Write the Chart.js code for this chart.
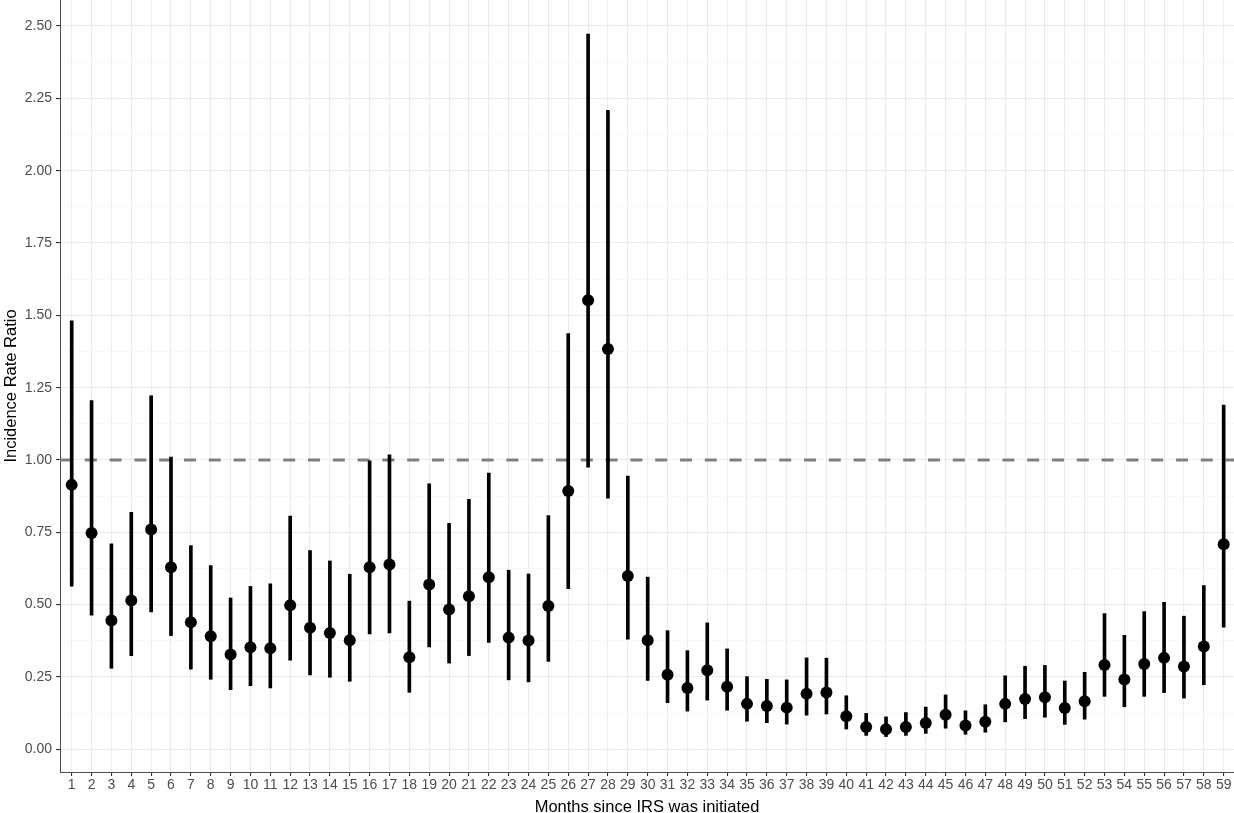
<!DOCTYPE html>
<html>
<head>
<meta charset="utf-8">
<script src="https://cdn.jsdelivr.net/npm/chart.js@4.4.1/dist/chart.umd.min.js"></script>
<style>
  html, body { margin: 0; padding: 0; background: #fff; overflow: hidden; }
  #wrap { width: 1234px; height: 813px; }
</style>
</head>
<body>
<div id="wrap"><canvas id="irrChart" width="1234" height="813"></canvas></div>
<script>
// months since IRS started
const months = [1, 2, 3, 4, 5, 6, 7, 8, 9, 10, 11, 12, 13, 14, 15, 16, 17, 18, 19, 20,
    21, 22, 23, 24, 25, 26, 27, 28, 29, 30, 31, 32, 33, 34, 35, 36, 37, 38, 39, 40,
    41, 42, 43, 44, 45, 46, 47, 48, 49, 50, 51, 52, 53, 54, 55, 56, 57, 58, 59];

// incidence rate ratio estimates
const irr = [0.914, 0.748, 0.445, 0.514, 0.760, 0.629, 0.439, 0.391, 0.328, 0.353,
    0.349, 0.498, 0.420, 0.402, 0.377, 0.629, 0.639, 0.318, 0.570, 0.483,
    0.529, 0.595, 0.386, 0.376, 0.495, 0.893, 1.552, 1.384, 0.599, 0.377,
    0.258, 0.212, 0.273, 0.216, 0.157, 0.150, 0.144, 0.192, 0.196, 0.114,
    0.077, 0.069, 0.077, 0.091, 0.119, 0.082, 0.095, 0.157, 0.174, 0.180,
    0.143, 0.166, 0.291, 0.241, 0.295, 0.316, 0.286, 0.355, 0.709];

// 95% CI bounds
const ciLower = [0.564, 0.464, 0.280, 0.324, 0.475, 0.393, 0.277, 0.242, 0.206, 0.220,
    0.212, 0.308, 0.257, 0.249, 0.235, 0.399, 0.402, 0.197, 0.354, 0.298,
    0.324, 0.369, 0.240, 0.233, 0.304, 0.555, 0.975, 0.868, 0.381, 0.238,
    0.161, 0.132, 0.170, 0.135, 0.097, 0.092, 0.087, 0.118, 0.122, 0.070,
    0.048, 0.044, 0.048, 0.055, 0.073, 0.052, 0.059, 0.095, 0.106, 0.111,
    0.086, 0.104, 0.183, 0.147, 0.183, 0.196, 0.177, 0.223, 0.422];

const ciUpper = [1.481, 1.205, 0.710, 0.819, 1.222, 1.010, 0.704, 0.635, 0.523, 0.563,
    0.572, 0.806, 0.687, 0.651, 0.605, 0.997, 1.018, 0.512, 0.918, 0.781,
    0.864, 0.955, 0.619, 0.606, 0.808, 1.437, 2.472, 2.209, 0.944, 0.595,
    0.410, 0.341, 0.437, 0.347, 0.251, 0.242, 0.240, 0.316, 0.315, 0.185,
    0.124, 0.112, 0.127, 0.146, 0.188, 0.133, 0.154, 0.254, 0.287, 0.290,
    0.236, 0.266, 0.469, 0.394, 0.476, 0.508, 0.460, 0.566, 1.190];

const yMajorTicks = [0, 0.25, 0.5, 0.75, 1, 1.25, 1.5, 1.75, 2, 2.25, 2.5];
const yMinorTicks = [0.125, 0.375, 0.625, 0.875, 1.125, 1.375, 1.625, 1.875, 2.125, 2.375];
const refValue = 1;

const FONT = '"Liberation Sans", Arial, sans-serif';
const isMajor = v => yMajorTicks.includes(v);

const refLinePlugin = {
    id: 'refLine',
    beforeDatasetsDraw(chart) {
        const { ctx, chartArea } = chart;
        const y = chart.scales.y.getPixelForValue(refValue);
        ctx.save();
        ctx.strokeStyle = '#808080';
        ctx.lineWidth = 3;
        ctx.setLineDash([12, 12.8]);
        ctx.beginPath();
        ctx.moveTo(chartArea.left, y);
        ctx.lineTo(chartArea.right, y);
        ctx.stroke();
        ctx.restore();
    }
};

new Chart(document.getElementById('irrChart').getContext('2d'), {
    type: 'bar',
    data: {
        datasets: [
            {
                type: 'line',
                label: 'IRR',
                data: months.map((m, i) => ({ x: m, y: irr[i] })),
                showLine: false,
                pointRadius: 6,
                pointBackgroundColor: '#000',
                pointBorderWidth: 0,
                order: 0
            },
            {
                type: 'bar',
                label: '95% CI',
                data: months.map((m, i) => ({ x: m, y: [ciLower[i], ciUpper[i]] })),
                backgroundColor: '#000',
                barThickness: 3,
                grouped: false,
                order: 1
            }
        ]
    },
    options: {
        responsive: false,
        animation: false,
        layout: { padding: 0, autoPadding: false },
        plugins: { legend: { display: false }, tooltip: { enabled: false } },
        scales: {
            x: {
                type: 'linear',
                min: 0.411,
                max: 59.52,
                offset: false,
                afterBuildTicks: s => { s.ticks = months.map(v => ({ value: v })); },
                afterFit: s => { s.height = 41; s.paddingLeft = 0; s.paddingRight = 0; },
                grid: { offset: false, color: '#ebebeb', lineWidth: 1.1, tickColor: '#333', tickLength: 4 },
                border: { display: true, color: '#4d4d4d', width: 1 },
                ticks: {
                    autoSkip: false, maxRotation: 0, padding: 1,
                    color: '#4d4d4d', font: { family: FONT, size: 14 },
                    callback: v => String(v)
                },
                title: {
                    display: true, text: 'Months since IRS was initiated',
                    color: '#000', font: { family: FONT, size: 16.5, lineHeight: 0.7 },
                    padding: 0
                }
            },
            y: {
                min: -0.0785,
                max: 2.59,
                afterBuildTicks: s => {
                    s.ticks = yMajorTicks.concat(yMinorTicks).sort((a, b) => a - b).map(v => ({ value: v }));
                },
                afterFit: s => { s.width = 60; s.paddingTop = 0; s.paddingBottom = 0; },
                grid: {
                    color: c => isMajor(c.tick.value) ? '#ebebeb' : '#f4f4f4',
                    lineWidth: c => isMajor(c.tick.value) ? 1.1 : 0.6,
                    tickColor: c => isMajor(c.tick.value) ? '#333' : 'rgba(0,0,0,0)',
                    tickLength: 4
                },
                border: { display: true, color: '#4d4d4d', width: 1 },
                ticks: {
                    autoSkip: false, padding: 4,
                    color: '#4d4d4d', font: { family: FONT, size: 14 },
                    callback: v => isMajor(v) ? v.toFixed(2) : ''
                },
                title: {
                    display: true, text: 'Incidence Rate Ratio',
                    color: '#000', font: { family: FONT, size: 16.5 },
                    padding: { top: 2, bottom: 0 }
                }
            }
        }
    },
    plugins: [refLinePlugin]
});
</script>
</body>
</html>
